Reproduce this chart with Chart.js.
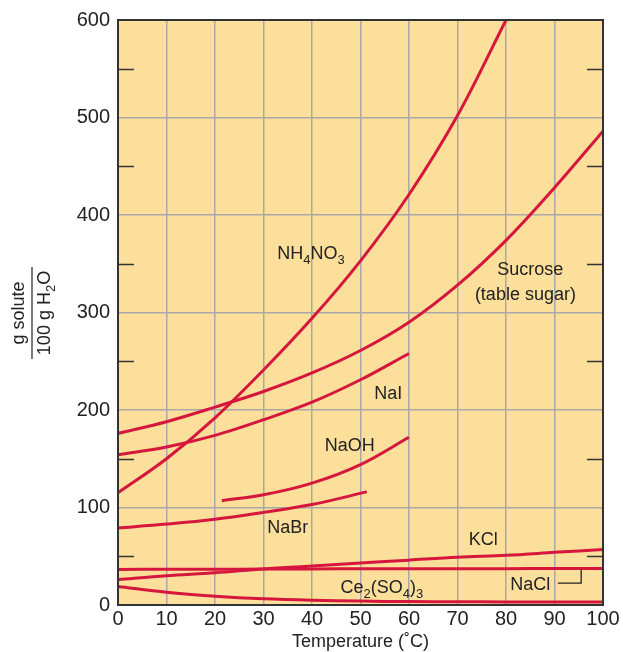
<!DOCTYPE html>
<html>
<head>
<meta charset="utf-8">
<script src="https://cdn.jsdelivr.net/npm/chart.js@4.4.1/dist/chart.umd.min.js"></script>
<style>
  html, body { margin: 0; padding: 0; background: #fff; }
  canvas { display: block; }
</style>
</head>
<body>
<canvas id="solubility" width="623" height="652"></canvas>
<script>
// temperatures (°C) and solubility readings (g solute / 100 g H2O)
const tempsFull = [0, 10, 20, 30, 40, 50, 60, 70, 80, 90, 100];
const nh4no3Temps = [0, 10, 20, 30, 40, 50, 60, 70, 80];
const nh4no3 = [115, 150, 192, 241, 294, 353, 421, 502, 600];
const sucrose = [176, 188, 203, 219, 238, 261, 290, 328, 374, 428, 486];
const naiTemps = [0, 10, 20, 30, 40, 50, 60];
const nai = [154, 162, 174, 190, 208, 231, 258];
const naohTemps = [21.4, 30, 40, 50, 60];
const naoh = [107, 113, 125, 144, 172];
const nabrTemps = [0, 10, 20, 30, 40, 51.3];
const nabr = [79, 83, 88, 95, 103, 116];
const kcl = [26, 30, 33, 37, 40, 43, 46, 49, 51, 54, 57];
const nacl = [36.5, 36.6, 36.7, 36.8, 37, 37.1, 37.2, 37.2, 37.3, 37.4, 37.5];
const ce2so43 = [19, 13, 9, 6.3, 4.8, 4, 3.5, 3.3, 3.2, 3.1, 3];

const xTicks = [0, 10, 20, 30, 40, 50, 60, 70, 80, 90, 100];
const yTicks = [0, 100, 200, 300, 400, 500, 600];

const RED = '#d6173d';
const TEXT = '#222';
const FONT = '"Liberation Sans", Arial, sans-serif';

function pts(xs, ys) {
    return xs.map((x, i) => ({ x: x, y: ys[i] }));
}

function curve(label, xs, ys) {
    return {
        label: label,
        data: pts(xs, ys),
        borderColor: RED,
        borderWidth: 3,
        pointRadius: 0,
        fill: false,
        tension: 0.35
    };
}

// curve labels, placed in data units; [text, subscript?] pieces
const labels = [
    { x: 39.8, y: 360, parts: [['NH', 0], ['4', 1], ['NO', 0], ['3', 1]] },
    { x: 85, y: 344, parts: [['Sucrose', 0]] },
    { x: 84, y: 318, parts: [['(table sugar)', 0]] },
    { x: 55.7, y: 216, parts: [['NaI', 0]] },
    { x: 47.8, y: 163, parts: [['NaOH', 0]] },
    { x: 35, y: 79, parts: [['NaBr', 0]] },
    { x: 75.3, y: 67, parts: [['KCl', 0]] },
    { x: 54.4, y: 17.5, parts: [['Ce', 0], ['2', 1], ['(SO', 0], ['4', 1], [')', 0], ['3', 1]] },
    { x: 85, y: 20.5, parts: [['NaCl', 0]] }
];

function drawParts(ctx, parts, cx, cy) {
    const big = '18px ' + FONT, small = '13px ' + FONT;
    let w = 0;
    parts.forEach(p => { ctx.font = p[1] ? small : big; w += ctx.measureText(p[0]).width; });
    let x = cx - w / 2;
    ctx.textAlign = 'left';
    ctx.textBaseline = 'middle';
    parts.forEach(p => {
        ctx.font = p[1] ? small : big;
        ctx.fillText(p[0], x, p[1] ? cy + 6 : cy);
        x += ctx.measureText(p[0]).width;
    });
}

const decor = {
    id: 'decor',
    beforeDraw(chart) {
        const { ctx, chartArea: a } = chart;
        ctx.save();
        ctx.fillStyle = '#fcdf9b';
        ctx.fillRect(a.left, a.top, a.right - a.left, a.bottom - a.top);
        ctx.restore();
    },
    afterDraw(chart) {
        const { ctx, chartArea: a, scales } = chart;
        const xs = scales.x, ys = scales.y;
        ctx.save();
        // frame
        ctx.strokeStyle = '#333';
        ctx.lineWidth = 2;
        ctx.strokeRect(a.left, a.top, a.right - a.left, a.bottom - a.top);
        // inward minor ticks at the 50s
        ctx.lineWidth = 1.5;
        for (let v = 50; v < 600; v += 100) {
            const py = Math.round(ys.getPixelForValue(v)) + 0.5;
            ctx.beginPath();
            ctx.moveTo(a.left, py); ctx.lineTo(a.left + 16, py);
            ctx.moveTo(a.right - 16, py); ctx.lineTo(a.right, py);
            ctx.stroke();
        }
        // curve labels
        ctx.fillStyle = TEXT;
        labels.forEach(l => drawParts(ctx, l.parts, xs.getPixelForValue(l.x), ys.getPixelForValue(l.y)));
        // NaCl leader
        ctx.strokeStyle = '#222';
        ctx.lineWidth = 1.3;
        ctx.beginPath();
        ctx.moveTo(xs.getPixelForValue(90.7), ys.getPixelForValue(22.5));
        ctx.lineTo(xs.getPixelForValue(95.5), ys.getPixelForValue(22.5));
        ctx.lineTo(xs.getPixelForValue(95.5), ys.getPixelForValue(36.2));
        ctx.stroke();
        // x axis title
        ctx.font = '18px ' + FONT;
        ctx.textAlign = 'center';
        ctx.textBaseline = 'middle';
        ctx.fillText('Temperature (\u02DAC)', (a.left + a.right) / 2, 642);
        // y axis title as a fraction, rotated
        ctx.translate(32, 313);
        ctx.rotate(-Math.PI / 2);
        ctx.beginPath();
        ctx.moveTo(-46, 0); ctx.lineTo(46, 0);
        ctx.lineWidth = 1.2;
        ctx.stroke();
        drawParts(ctx, [['g solute', 0]], 0, -13);
        drawParts(ctx, [['100 g H', 0], ['2', 1], ['O', 0]], 0, 13);
        ctx.restore();
    }
};

new Chart(document.getElementById('solubility'), {
    type: 'line',
    data: {
        datasets: [
            curve('NH4NO3', nh4no3Temps, nh4no3),
            curve('Sucrose', tempsFull, sucrose),
            curve('NaI', naiTemps, nai),
            curve('NaOH', naohTemps, naoh),
            curve('NaBr', nabrTemps, nabr),
            curve('KCl', tempsFull, kcl),
            curve('NaCl', tempsFull, nacl),
            curve('Ce2(SO4)3', tempsFull, ce2so43)
        ]
    },
    options: {
        responsive: false,
        devicePixelRatio: 1,
        animation: false,
        layout: { padding: { left: 0, right: 20, top: 20, bottom: 0 } },
        plugins: { legend: { display: false }, tooltip: { enabled: false } },
        scales: {
            x: {
                type: 'linear',
                min: 0,
                max: 100,
                afterFit: s => { s.height = 47; },
                afterBuildTicks: s => { s.ticks = xTicks.map(v => ({ value: v })); },
                ticks: { color: TEXT, font: { family: FONT, size: 20 }, padding: 2, maxRotation: 0 },
                grid: { color: '#a8a8a8', lineWidth: 1.5, drawTicks: false },
                border: { display: false }
            },
            y: {
                min: 0,
                max: 600,
                afterFit: s => { s.width = 118; },
                afterBuildTicks: s => { s.ticks = yTicks.map(v => ({ value: v })); },
                ticks: { color: TEXT, font: { family: FONT, size: 20 }, padding: 8 },
                grid: { color: '#a8a8a8', lineWidth: 1.5, drawTicks: false },
                border: { display: false }
            }
        }
    },
    plugins: [decor]
});
</script>
</body>
</html>
